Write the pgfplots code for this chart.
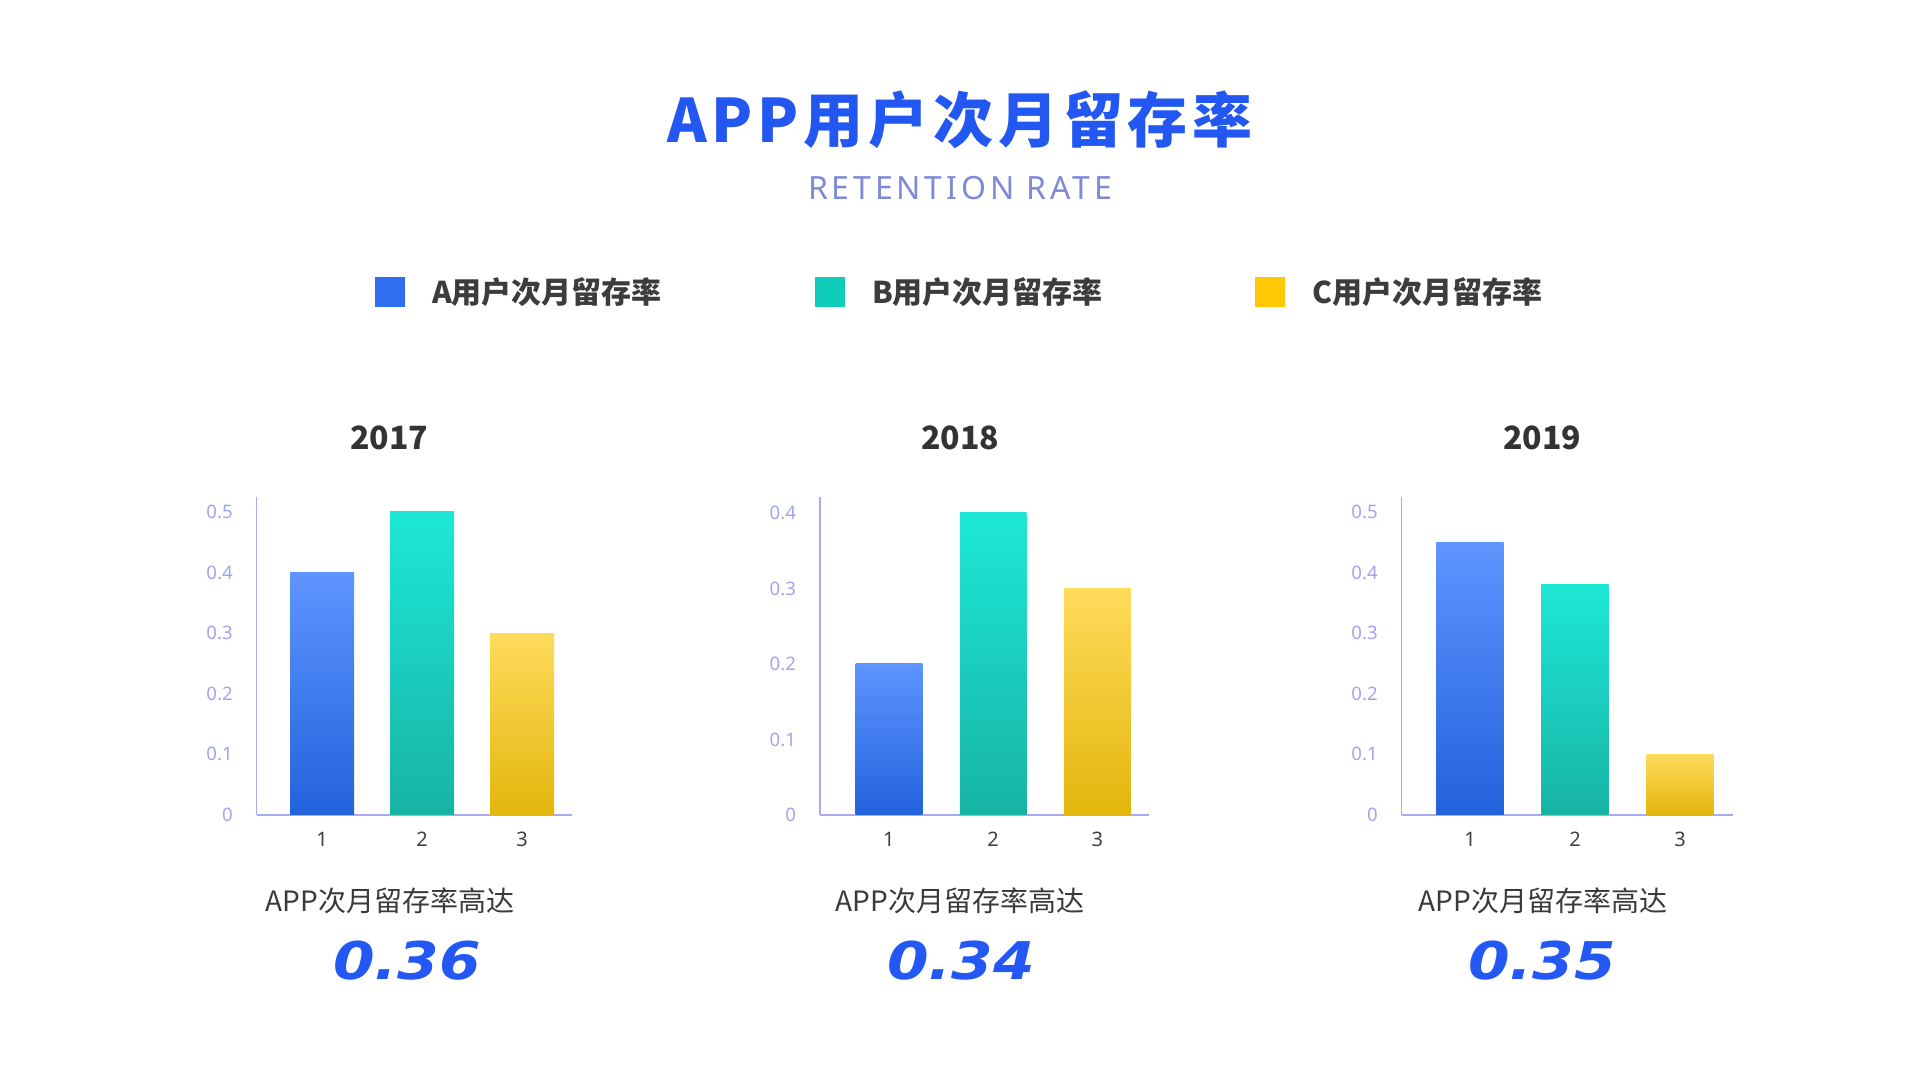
\documentclass[border=0pt]{standalone}
\usepackage{fontspec}
\usepackage{pgfplots}
\pgfplotsset{compat=1.18}
\setmainfont{Noto Sans}
\newfontfamily\cjk{Noto Sans CJK SC}
\newfontfamily\numfont{DejaVu Sans}

\definecolor{titleblue}{RGB}{34,87,242}
\definecolor{numblue}{RGB}{35,88,245}
\definecolor{subc}{RGB}{127,138,214}
\definecolor{legc}{RGB}{60,60,60}
\definecolor{ttlc}{RGB}{51,51,51}
\definecolor{botc}{RGB}{58,58,58}
\definecolor{sqA}{RGB}{47,111,239}
\definecolor{sqB}{RGB}{15,203,185}
\definecolor{sqC}{RGB}{255,200,5}
\definecolor{aTop}{RGB}{94,149,255}
\definecolor{aBot}{RGB}{34,98,220}
\definecolor{bTop}{RGB}{30,232,214}
\definecolor{bBot}{RGB}{23,179,165}
\definecolor{cTop}{RGB}{255,219,91}
\definecolor{cBot}{RGB}{226,182,12}
\definecolor{axisc}{RGB}{170,170,240}
\definecolor{tickc}{RGB}{163,163,240}
\definecolor{xtc}{RGB}{64,64,64}

\pgfplotsset{
  retax/.style={
    scale only axis,
    anchor=south west,
    height=159.15pt,
    axis x line=bottom, axis y line=left,
    axis line style={-, draw=axisc, line width=0.75pt},
    major tick length=0pt,
    xtick={1,2,3}, ymin=0,
    /pgf/number format/assume math mode=true,
    yticklabel style={font=\fontsize{9.3pt}{11pt}\selectfont, text=tickc, inner sep=0pt},
    xticklabel style={font=\fontsize{10pt}{12pt}\selectfont, text=xtc, inner sep=0pt},
    yticklabel shift=11.8pt, xticklabel shift=8.5pt,
    clip=false,
  },
  barA/.style={ybar, bar width=0.64, bar shift=0pt, draw=none, top color=aTop, bottom color=aBot},
  barB/.style={ybar, bar width=0.64, bar shift=0pt, draw=none, top color=bTop, bottom color=bBot},
  barC/.style={ybar, bar width=0.64, bar shift=0pt, draw=none, top color=cTop, bottom color=cBot},
}

\begin{document}
\begin{tikzpicture}[x=0.5pt,y=0.5pt]
\path[use as bounding box, fill=white] (0,0) rectangle (1920,1080);

% Title
\node[anchor=center, inner sep=0pt, text=titleblue, font=\cjk\bfseries\fontsize{30pt}{36pt}\selectfont\addfontfeatures{LetterSpace=8}] at (960,960) {APP用户次月留存率};
\node[anchor=base, inner sep=0pt, text=subc, font=\fontsize{16pt}{19pt}\selectfont\addfontfeatures{LetterSpace=12}] at (960,880) {RETENTION RATE};

% Legend
\fill[sqA] (375,773.3) rectangle (405,803.3);
\fill[sqB] (815,773.3) rectangle (845,803.3);
\fill[sqC] (1255,773.3) rectangle (1285,803.3);
\node[anchor=west, inner sep=0pt, text=legc, font=\cjk\bfseries\fontsize{15pt}{18pt}\selectfont] at (431.7,788.3) {A用户次月留存率};
\node[anchor=west, inner sep=0pt, text=legc, font=\cjk\bfseries\fontsize{15pt}{18pt}\selectfont] at (871.7,788.3) {B用户次月留存率};
\node[anchor=west, inner sep=0pt, text=legc, font=\cjk\bfseries\fontsize{15pt}{18pt}\selectfont] at (1311.7,788.3) {C用户次月留存率};

% Chart titles
\node[anchor=base, inner sep=0pt, text=ttlc, font=\cjk\bfseries\fontsize{16pt}{19pt}\selectfont] at (389,630) {2017};
\node[anchor=base, inner sep=0pt, text=ttlc, font=\cjk\bfseries\fontsize{16pt}{19pt}\selectfont] at (960,630) {2018};
\node[anchor=base, inner sep=0pt, text=ttlc, font=\cjk\bfseries\fontsize{16pt}{19pt}\selectfont] at (1542,630) {2019};

% Chart 2017
\begin{axis}[retax, at={(128.35pt,132.5pt)}, width=157.5pt,
  xmin=0.347, xmax=3.497, ymax=0.525, ytick={0,0.1,0.2,0.3,0.4,0.5}]
\addplot[barA] coordinates {(1,0.40)};
\addplot[barB] coordinates {(2,0.50)};
\addplot[barC] coordinates {(3,0.30)};
\end{axis}

% Chart 2018
\begin{axis}[retax, at={(410pt,132.5pt)}, width=164.65pt,
  xmin=0.338, xmax=3.5, ymax=0.4215, ytick={0,0.1,0.2,0.3,0.4}]
\addplot[barA] coordinates {(1,0.20)};
\addplot[barB] coordinates {(2,0.40)};
\addplot[barC] coordinates {(3,0.30)};
\end{axis}

% Chart 2019
\begin{axis}[retax, at={(700.85pt,132.5pt)}, width=165.5pt,
  xmin=0.35, xmax=3.5, ymax=0.525, ytick={0,0.1,0.2,0.3,0.4,0.5}]
\addplot[barA] coordinates {(1,0.45)};
\addplot[barB] coordinates {(2,0.38)};
\addplot[barC] coordinates {(3,0.10)};
\end{axis}

% Bottom texts
\node[anchor=base, inner sep=0pt, text=botc, font=\cjk\fontsize{14pt}{17pt}\selectfont] at (390,168.3) {APP次月留存率高达};
\node[anchor=base, inner sep=0pt, text=botc, font=\cjk\fontsize{14pt}{17pt}\selectfont] at (960,168.3) {APP次月留存率高达};
\node[anchor=base, inner sep=0pt, text=botc, font=\cjk\fontsize{14pt}{17pt}\selectfont] at (1543,168.3) {APP次月留存率高达};

% Big numbers
\node[anchor=base, inner sep=0pt, text=numblue, font=\numfont\bfseries\itshape\fontsize{26pt}{30pt}\selectfont] at (407,100) {\scalebox{1.15}[1]{0.36}};
\node[anchor=base, inner sep=0pt, text=numblue, font=\numfont\bfseries\itshape\fontsize{26pt}{30pt}\selectfont] at (961,100) {\scalebox{1.15}[1]{0.34}};
\node[anchor=base, inner sep=0pt, text=numblue, font=\numfont\bfseries\itshape\fontsize{26pt}{30pt}\selectfont] at (1542,100) {\scalebox{1.15}[1]{0.35}};
\end{tikzpicture}
\end{document}
